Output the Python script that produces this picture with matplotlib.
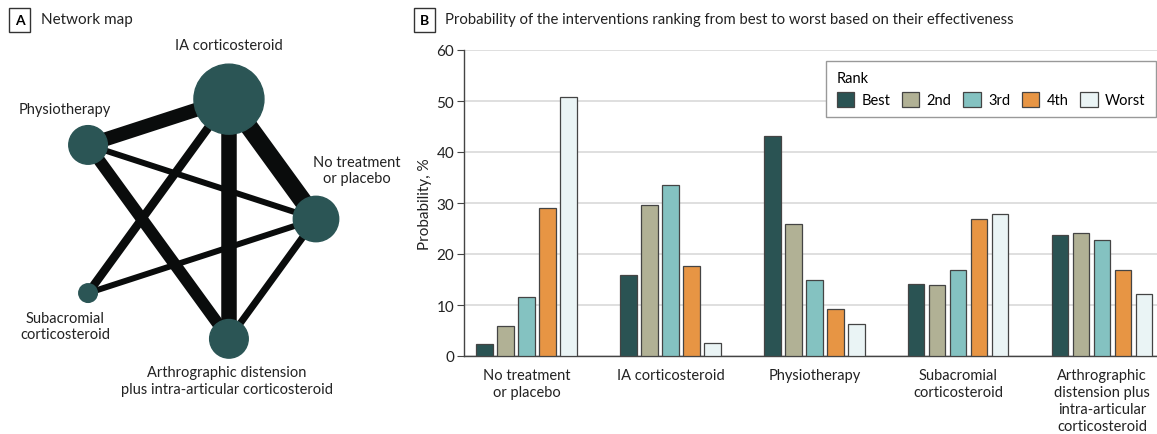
import numpy as np
import matplotlib.pyplot as plt
from matplotlib.patches import Circle

plt.rcParams['font.family'] = ['Lato', 'DejaVu Sans']
plt.rcParams['font.size'] = 10

# Данні
groups = ["No treatment\nor placebo", "IA corticosteroid", "Physiotherapy",
          "Subacromial\ncorticosteroid",
          "Arthrographic\ndistension plus\nintra-articular\ncorticosteroid"]
ranks = ["Best", "2nd", "3rd", "4th", "Worst"]
best = [2.4, 15.9, 43.2, 14.1, 23.7]
second = [5.8, 29.6, 25.9, 13.9, 24.2]
third = [11.5, 33.5, 14.9, 16.9, 22.7]
fourth = [29.1, 17.7, 9.2, 26.8, 16.9]
worst = [50.8, 2.6, 6.3, 27.9, 12.1]
rank_colors = ["#2a5353", "#b1b195", "#84c2c1", "#e79544", "#eaf4f5"]

# Мережа
node_names = ["No treatment\nor placebo", "IA corticosteroid", "Physiotherapy",
              "Subacromial\ncorticosteroid",
              "Arthrographic distension\nplus intra-articular corticosteroid"]
node_radius = [22.7, 35, 19.3, 9.3, 19.3]   # px
edges = [(1, 2), (1, 0), (1, 4), (1, 3), (2, 0), (2, 4), (3, 0), (4, 0)]
edge_width = [14, 18, 15.5, 8.5, 6, 12, 6, 7]    # px

W, H = 1157, 435
fig = plt.figure(figsize=(W / 100, H / 100), dpi=100)

# ---- A: network map ----
R = 126.0
axA = fig.add_axes([0, 0, 400 / W, 1])
axA.set_xlim(-190 / R, 210 / R)
axA.set_ylim(-(H - 220) / R, 220 / R)
axA.axis("off")
ang = np.deg2rad(np.arange(5) * 72)
px, py = np.cos(ang), np.sin(ang)
for (a, b), w in zip(edges, edge_width):
    axA.plot([px[a], px[b]], [py[a], py[b]], color="#0a0c0c",
             lw=w * 0.72, solid_capstyle="butt", zorder=1)
for i in range(5):
    axA.add_patch(Circle((px[i], py[i]), node_radius[i] / R,
                         color="#2b5555", zorder=2))
label_off = [(41, 49), (0, 54), (-23, 36), (-23, -33), (-2, -42)]
for i, (dx, dy) in enumerate(label_off):
    axA.text(px[i] + dx / R, py[i] + dy / R, node_names[i],
             ha="center", va="center", fontsize=10.5, color="#222222",
             linespacing=1.25)

# ---- B: bar chart ----
axB = fig.add_axes([464 / W, (H - 357) / H, (W - 464) / W, 306 / H])
x = np.arange(len(groups))
series = [best, second, third, fourth, worst]
step, bw = 0.146, 0.116
for k, vals in enumerate(series):
    axB.bar(x + (k - 2) * step, vals, width=bw, color=rank_colors[k],
            edgecolor="#444444", linewidth=0.9, label=ranks[k], zorder=3)
axB.set_xlim(-0.436, 4.383)
axB.set_ylim(0, 60)
axB.set_yticks(range(0, 61, 10))
axB.yaxis.grid(True, color="#dcdcdc", lw=1.3, zorder=0)
axB.set_axisbelow(True)
for s in ["top", "right"]:
    axB.spines[s].set_visible(False)
for s in ["left", "bottom"]:
    axB.spines[s].set_color("#444444")
    axB.spines[s].set_linewidth(1)
axB.set_xticks(x)
axB.set_xticklabels(groups, linespacing=1.25, fontsize=10.5, color="#222222")
axB.tick_params(axis="x", length=0, pad=9)
axB.tick_params(axis="y", length=5, color="#444444", labelsize=11,
                labelcolor="#222222", pad=2)
axB.set_ylabel("Probability, %", fontsize=11, color="#222222", labelpad=3)

leg = axB.legend(ncol=5, title="Rank", loc="upper right",
                 bbox_to_anchor=(0.998, 0.964), borderaxespad=0,
                 alignment="left", fancybox=False, edgecolor="#999999",
                 framealpha=1, fontsize=10.5, title_fontsize=10.5,
                 handlelength=1.2, handleheight=1.2, handletextpad=0.5,
                 columnspacing=0.8, borderpad=0.7, labelspacing=0.45)
leg.get_frame().set_linewidth(1)

# ---- headers ----
box = dict(boxstyle="square,pad=0.4", fc="white", ec="#333333", lw=1)
fig.text(15 / W, 1 - 21 / H, "A", fontsize=10, fontweight="bold",
         va="center", bbox=box)
fig.text(41 / W, 1 - 20 / H, "Network map", fontsize=11, va="center",
         color="#222222")
fig.text(420 / W, 1 - 21 / H, "B", fontsize=10, fontweight="bold",
         va="center", bbox=box)
fig.text(445 / W, 1 - 20 / H,
         "Probability of the interventions ranking from best to worst based on their effectiveness",
         fontsize=10.75, va="center", color="#222222")

fig.savefig("out.png", dpi=100)
